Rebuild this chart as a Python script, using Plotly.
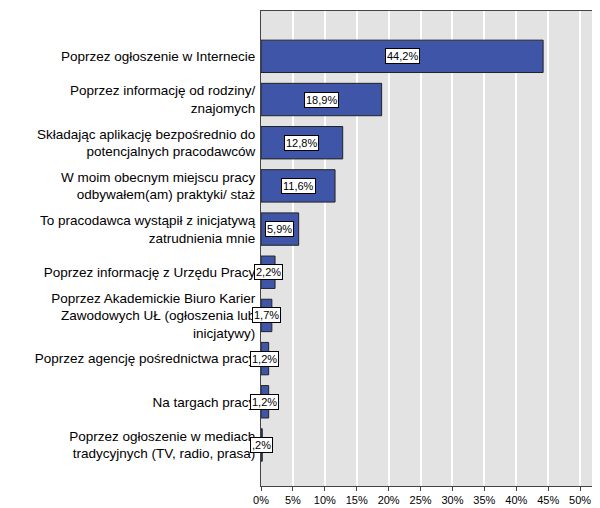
import plotly.graph_objects as go

categories = [
    "Poprzez ogłoszenie w Internecie",
    "Poprzez informację od rodziny/<br>znajomych",
    "Składając aplikację bezpośrednio do<br>potencjalnych pracodawców",
    "W moim obecnym miejscu pracy<br>odbywałem(am) praktyki/ staż",
    "To pracodawca wystąpił z inicjatywą<br>zatrudnienia mnie",
    "Poprzez informację z Urzędu Pracy",
    "Poprzez Akademickie Biuro Karier<br>Zawodowych UŁ (ogłoszenia lub<br>inicjatywy)",
    "Poprzez agencję pośrednictwa pracy",
    "Na targach pracy",
    "Poprzez ogłoszenie w mediach<br>tradycyjnych (TV, radio, prasa)",
]
values = [44.2, 18.9, 12.8, 11.6, 5.9, 2.2, 1.7, 1.2, 1.2, 0.2]
labels = ["44,2%", "18,9%", "12,8%", "11,6%", "5,9%", "2,2%", "1,7%", "1,2%", "1,2%", ",2%"]
xticks = [0, 5, 10, 15, 20, 25, 30, 35, 40, 45, 50]

idx = list(range(len(categories)))
fig = go.Figure(go.Bar(
    x=values, y=idx, orientation="h", width=0.75,
    marker=dict(color="#3F56A8", line=dict(color="#222222", width=1)),
))
for i, v, t in zip(idx, values, labels):
    fig.add_annotation(x=v / 2, y=i, text=t, showarrow=False,
                       bgcolor="white", bordercolor="black", borderwidth=1, borderpad=1,
                       font=dict(size=11, color="black"))
fig.update_layout(
    width=600, height=508, margin=dict(l=253, r=10, t=3, b=30),
    plot_bgcolor="#E3E3E3", paper_bgcolor="white", showlegend=False,
    font=dict(family="Liberation Sans, Arial", size=12, color="black"),
)
fig.update_xaxes(range=[0, 52.8], tickvals=xticks, ticktext=[f"{t}%" for t in xticks],
                 showgrid=True, gridcolor="white", gridwidth=1.5, zeroline=False,
                 ticks="outside", ticklen=4, tickfont=dict(size=11),
                 showline=True, linecolor="#444", mirror=True, automargin=False)
fig.update_yaxes(range=[9.95, -1.05], tickvals=idx, ticktext=categories,
                 showgrid=False, ticks="", showline=True, linecolor="#444", mirror=True,
                 tickfont=dict(size=13.5), automargin=False, ticklabelstandoff=2)
fig.write_html("out.html")
